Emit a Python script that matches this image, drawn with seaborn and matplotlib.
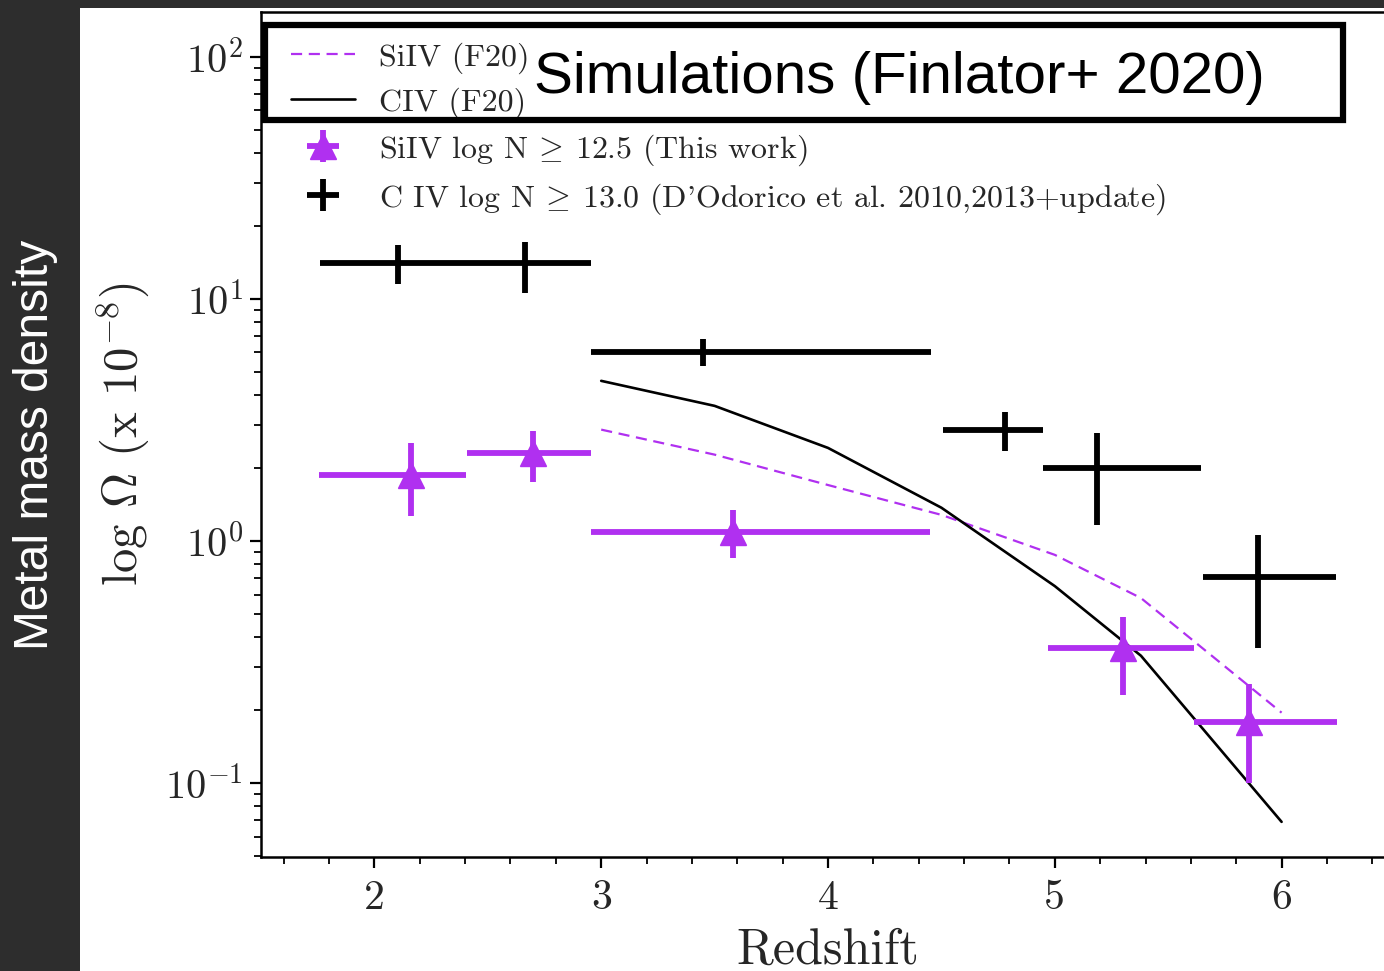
import numpy as np
import matplotlib
matplotlib.use("Agg")
import matplotlib.pyplot as plt
from matplotlib.patches import Rectangle
from matplotlib.ticker import FuncFormatter, LogLocator, MultipleLocator, NullFormatter
import seaborn as sns

# Simulated mass densities (Finlator et al. 2020)
sim_z = [3.0, 3.5, 4.0, 4.5, 5.0, 5.38, 6.0]
sim_siiv = [2.88, 2.27, 1.70, 1.28, 0.875, 0.58, 0.195]
sim_civ = [4.58, 3.61, 2.42, 1.37, 0.65, 0.335, 0.069]

# SiIV measurements (this work): bin centre, bin edges, value and bounds
siiv_z = [2.16, 2.70, 3.58, 5.30, 5.855]
siiv_zlo = [1.757, 2.410, 2.957, 4.968, 5.612]
siiv_zhi = [2.406, 2.953, 4.448, 5.612, 6.243]
siiv_omega = [1.875, 2.31, 1.09, 0.361, 0.179]
siiv_lo = [1.27, 1.75, 0.85, 0.231, 0.100]
siiv_hi = [2.54, 2.85, 1.34, 0.485, 0.256]

# CIV measurements (D'Odorico et al. 2010, 2013 + update)
civ_z = [2.106, 2.666, 3.447, 4.78, 5.184, 5.894]
civ_zlo = [1.762, 2.45, 2.953, 4.505, 4.950, 5.655]
civ_zhi = [2.45, 2.953, 4.452, 4.950, 5.645, 6.240]
civ_omega = [14.0, 14.0, 6.05, 2.88, 1.99, 0.71]
civ_lo = [11.5, 10.6, 5.28, 2.35, 1.16, 0.36]
civ_hi = [16.6, 17.2, 6.84, 3.41, 2.79, 1.06]

purple = "#b030f0"
dark = "#2d2d2d"

sns.set_theme(style="ticks")
plt.rcParams["font.family"] = ["cmr10"]
plt.rcParams["mathtext.fontset"] = "cm"
plt.rcParams["axes.unicode_minus"] = False
plt.rcParams["axes.formatter.use_mathtext"] = True

W, H = 1384, 971
fig = plt.figure(figsize=(W / 100, H / 100), dpi=100, facecolor=dark)

# white panel holding the plot
fig.add_artist(Rectangle((80 / W, 0), 1 - 80 / W, 1 - 8 / H, transform=fig.transFigure,
                         facecolor="white", edgecolor="none", zorder=-5))

ax = fig.add_axes([261 / W, 1 - 857 / H, 1134 / W, 845 / H])
ax.set_facecolor("white")

def as_err(center, lo, hi):
    c = np.asarray(center)
    return np.vstack([c - np.asarray(lo), np.asarray(hi) - c])

sns.lineplot(x=sim_z, y=sim_siiv, ax=ax, color=purple, lw=1.6, dashes=(5, 3),
             label="SiIV (F20)")
sns.lineplot(x=sim_z, y=sim_civ, ax=ax, color="black", lw=1.9, label="CIV (F20)")

ax.errorbar(siiv_z, siiv_omega,
            xerr=as_err(siiv_z, siiv_zlo, siiv_zhi),
            yerr=as_err(siiv_omega, siiv_lo, siiv_hi),
            fmt="^", color=purple, ms=19, elinewidth=4.2, capsize=0,
            label=r"SiIV log N $\!\geq\!$ 12.5 (This work)")
ax.errorbar(civ_z, civ_omega,
            xerr=as_err(civ_z, civ_zlo, civ_zhi),
            yerr=as_err(civ_omega, civ_lo, civ_hi),
            fmt="none", ecolor="black", elinewidth=4.2, capsize=0,
            label=r"C IV log N $\!\geq\!$ 13.0 (D'Odorico et al. 2010,2013+update)")

ax.set_yscale("log")
ax.set_xlim(1.5, 6.5)
ax.set_ylim(0.0494, 153)

ax.xaxis.set_major_locator(MultipleLocator(1))
ax.xaxis.set_minor_locator(MultipleLocator(0.2))
ax.xaxis.set_major_formatter(FuncFormatter(lambda v, p: f"{int(round(v))}"))
ax.yaxis.set_major_locator(LogLocator(base=10, numticks=10))
ax.yaxis.set_minor_locator(LogLocator(base=10, subs=np.arange(2, 10), numticks=10))
ax.yaxis.set_major_formatter(FuncFormatter(lambda v, p: rf"$10^{{{int(round(np.log10(v)))}}}$"))
ax.yaxis.set_minor_formatter(NullFormatter())

ax.tick_params(axis="both", which="major", length=8, width=1.6, labelsize=29, pad=5, color="black")
ax.tick_params(axis="both", which="minor", length=5, width=1.3, color="black")
ax.tick_params(axis="x", labelsize=30, pad=8)

for side in ["left", "bottom", "top", "right"]:
    ax.spines[side].set_linewidth(1.8)
    ax.spines[side].set_color("black")

ax.set_xlabel("Redshift", fontsize=36, labelpad=8)
ax.set_ylabel(r"log $\Omega$ (x $10^{-8}$)", fontsize=35, labelpad=10)

leg = ax.legend(loc="upper left", bbox_to_anchor=(0.0, 1.0), frameon=False, fontsize=23,
                handlelength=2.0, handletextpad=0.75, labelspacing=0.42,
                borderaxespad=0.55, borderpad=0.4)

# boxed caption over the simulation entries
fig.add_artist(Rectangle((265 / W, 1 - 120 / H), (1343 - 265) / W, 95 / H,
                         transform=fig.transFigure, facecolor="none",
                         edgecolor="black", lw=4.5, zorder=10))
fig.text(899 / W, 1 - 78 / H, "Simulations (Finlator+ 2020)", family="Liberation Sans",
         fontsize=42, ha="center", va="center", color="black", zorder=11)

fig.text(36 / W, 1 - 445 / H, "Metal mass density", family="Liberation Sans",
         fontsize=34.5, rotation=90, ha="center", va="center", color="white")

fig.savefig("out.png", dpi=100, facecolor=dark)
